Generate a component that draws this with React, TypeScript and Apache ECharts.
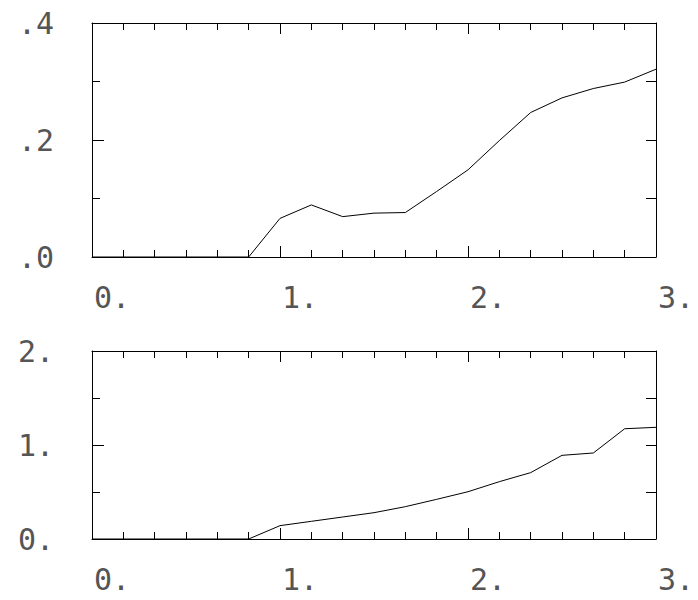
import React, { useEffect, useRef } from "react";
import * as echarts from "echarts";

const xValues = [0, 0.1667, 0.3333, 0.5, 0.6667, 0.8333, 1, 1.1667, 1.3333, 1.5, 1.6667, 1.8333, 2, 2.1667, 2.3333, 2.5, 2.6667, 2.8333, 3];
const topValues = [0, 0, 0, 0, 0, 0, 0.066, 0.089, 0.069, 0.075, 0.076, 0.112, 0.149, 0.199, 0.247, 0.272, 0.288, 0.299, 0.321];
const bottomValues = [0, 0, 0, 0, 0, 0, 0.142, 0.188, 0.234, 0.28, 0.344, 0.422, 0.503, 0.61, 0.706, 0.89, 0.915, 1.173, 1.188];
const xTickLabels = ["0.", "1.", "2.", "3."];
const topYLabels = [".0", ".2", ".4"];
const bottomYLabels = ["0.", "1.", "2."];

const FONT = "'DejaVu Sans Mono', monospace";
const TEXT_COLOR = "#555";

function buildOption() {
  const grids = [
    { left: 92, top: 23, width: 564, height: 234 },
    { left: 92, top: 351, width: 564, height: 188 },
  ];
  const line = { lineStyle: { color: "#000", width: 1 } };
  const xAxes: any[] = [];
  const yAxes: any[] = [];
  const panels = [
    { max: 0.4, major: 0.2, minor: 0.1, labels: topYLabels },
    { max: 2, major: 1, minor: 0.5, labels: bottomYLabels },
  ];
  panels.forEach((p, g) => {
    xAxes.push({
      type: "value",
      gridIndex: g,
      position: "bottom",
      min: 0,
      max: 3,
      interval: 1,
      axisLine: { show: true, onZero: false, ...line },
      axisTick: { show: true, inside: true, length: 11, ...line },
      minorTick: { show: true, splitNumber: 6, length: 7, ...line },
      splitLine: { show: false },
      minorSplitLine: { show: false },
      axisLabel: {
        show: true,
        align: "left",
        verticalAlign: "middle",
        margin: 40,
        padding: [0, 0, 0, 2],
        fontFamily: FONT,
        fontSize: 30,
        color: TEXT_COLOR,
        formatter: (v: number) => xTickLabels[Math.round(v)],
      },
    });
    xAxes.push({
      type: "value",
      gridIndex: g,
      position: "top",
      min: 0,
      max: 3,
      interval: 1,
      axisLine: { show: true, onZero: false, ...line },
      axisTick: { show: true, inside: true, length: 11, ...line },
      minorTick: { show: true, splitNumber: 6, length: 7, ...line },
      splitLine: { show: false },
      axisLabel: { show: false },
    });
    yAxes.push({
      type: "value",
      gridIndex: g,
      position: "left",
      min: 0,
      max: p.max,
      interval: p.major,
      axisLine: { show: true, onZero: false, ...line },
      axisTick: { show: true, inside: true, length: 12, ...line },
      minorTick: { show: true, splitNumber: 2, length: 8, ...line },
      splitLine: { show: false },
      minorSplitLine: { show: false },
      axisLabel: {
        show: true,
        align: "right",
        verticalAlign: "middle",
        margin: 38,
        fontFamily: FONT,
        fontSize: 30,
        color: TEXT_COLOR,
        formatter: (_v: number, i: number) => p.labels[i],
      },
    });
    yAxes.push({
      type: "value",
      gridIndex: g,
      position: "right",
      min: 0,
      max: p.max,
      interval: p.minor,
      axisLine: { show: true, onZero: false, ...line },
      axisTick: { show: true, inside: true, length: 10, ...line },
      splitLine: { show: false },
      axisLabel: { show: false },
    });
  });
  return {
    animation: false,
    backgroundColor: "#fff",
    grid: grids,
    xAxis: xAxes,
    yAxis: yAxes,
    series: [
      {
        type: "line",
        xAxisIndex: 0,
        yAxisIndex: 0,
        data: xValues.map((x, i) => [x, topValues[i]]),
        showSymbol: false,
        symbol: "none",
        lineStyle: { color: "#000", width: 1 },
      },
      {
        type: "line",
        xAxisIndex: 2,
        yAxisIndex: 2,
        data: xValues.map((x, i) => [x, bottomValues[i]]),
        showSymbol: false,
        symbol: "none",
        lineStyle: { color: "#000", width: 1 },
      },
    ],
  };
}

export default function App() {
  const ref = useRef<HTMLDivElement>(null);
  useEffect(() => {
    if (!ref.current) return;
    const chart = echarts.init(ref.current, undefined, { renderer: "svg" });
    chart.setOption(buildOption() as any);
    return () => chart.dispose();
  }, []);
  return (
    <div
      ref={ref}
      style={{ position: "fixed", left: 0, top: 0, width: 698, height: 600, background: "#fff" }}
    />
  );
}
